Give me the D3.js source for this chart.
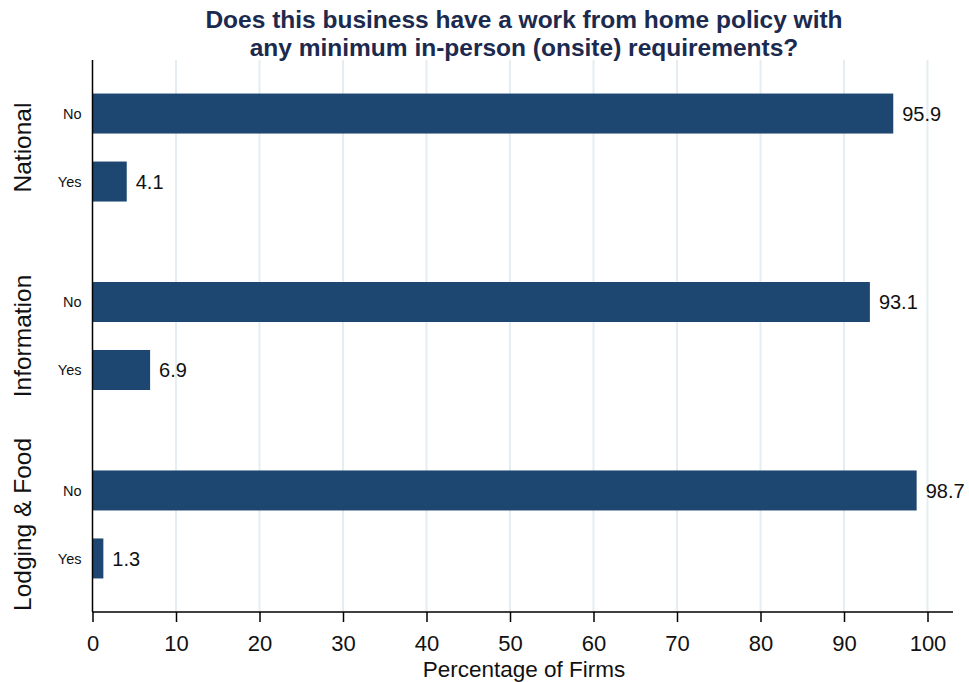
<!DOCTYPE html>
<html>
<head>
<meta charset="utf-8">
<script src="https://cdn.jsdelivr.net/npm/d3@7"></script>
<style>
  html, body { margin: 0; padding: 0; background: #ffffff; }
  svg { display: block; }
  text { font-family: "Liberation Sans", Arial, sans-serif; }
</style>
</head>
<body>
<svg id="chart" width="969" height="682"></svg>
<script>
const groups = ["National", "Information", "Lodging & Food"];
const answers = ["No", "Yes"];
const noValues = [95.9, 93.1, 98.7];
const yesValues = [4.1, 6.9, 1.3];
const xTicks = [0, 10, 20, 30, 40, 50, 60, 70, 80, 90, 100];
const titleLines = ["Does this business have a work from home policy with", "any minimum in-person (onsite) requirements?"];
const xTitle = "Percentage of Firms";

const rows = [];
groups.forEach((g, i) => {
  rows.push({ group: g, answer: "No", value: noValues[i] });
  rows.push({ group: g, answer: "Yes", value: yesValues[i] });
});

const svg = d3.select("#chart");
const plotLeft = 92.5, plotRight = 953, plotTop = 60, plotBottom = 612;

const x = d3.scaleLinear().domain([0, 100]).range([plotLeft, 927.5]);
const yGroup = d3.scaleBand().domain(groups).range([plotTop, plotBottom]).paddingInner(0.427).paddingOuter(0.178);
const yAns = d3.scaleBand().domain(answers).range([0, yGroup.bandwidth()]).paddingInner(0.4118).paddingOuter(0);

const barColor = "#1d4770";

// gridlines
svg.append("g").selectAll("line").data(xTicks.filter(d => d > 0)).join("line")
  .attr("x1", d => x(d)).attr("x2", d => x(d))
  .attr("y1", plotTop).attr("y2", plotBottom)
  .attr("stroke", "#e4edf1").attr("stroke-width", 2);

// bars
svg.append("g").selectAll("rect").data(rows).join("rect")
  .attr("x", x(0))
  .attr("y", d => yGroup(d.group) + yAns(d.answer))
  .attr("width", d => x(d.value) - x(0))
  .attr("height", yAns.bandwidth())
  .attr("fill", barColor);

// value labels
svg.append("g").selectAll("text").data(rows).join("text")
  .attr("x", d => x(d.value) + 9)
  .attr("y", d => yGroup(d.group) + yAns(d.answer) + yAns.bandwidth() / 2)
  .attr("dy", "0.36em")
  .attr("font-size", 20)
  .attr("fill", "#111")
  .text(d => d.value.toFixed(1));

// answer labels
svg.append("g").selectAll("text").data(rows).join("text")
  .attr("x", 81.5)
  .attr("y", d => yGroup(d.group) + yAns(d.answer) + yAns.bandwidth() / 2)
  .attr("dy", "0.36em")
  .attr("text-anchor", "end")
  .attr("font-size", 14.5)
  .attr("fill", "#111")
  .text(d => d.answer);

// group labels
svg.append("g").selectAll("text").data(groups).join("text")
  .attr("transform", d => `translate(31,${yGroup(d) + yGroup.bandwidth() / 2}) rotate(-90)`)
  .attr("text-anchor", "middle")
  .attr("font-size", 24.5)
  .attr("fill", "#111")
  .text(d => d);

// x axis
const xAxis = d3.axisBottom(x).tickValues(xTicks).tickSize(10).tickPadding(13).tickFormat(d3.format("d"));
const gx = svg.append("g").attr("transform", `translate(0,${plotBottom})`).call(xAxis);
gx.select(".domain").remove();
gx.append("line").attr("x1", plotLeft).attr("x2", plotRight).attr("y1", 0).attr("y2", 0).attr("stroke", "#000").attr("stroke-width", 1.5);
gx.selectAll(".tick line").attr("stroke", "#000").attr("stroke-width", 1.5);
gx.selectAll(".tick text").attr("font-size", 22).attr("fill", "#111").attr("font-family", "'Liberation Sans', Arial, sans-serif");

// y axis line
svg.append("line").attr("x1", plotLeft).attr("x2", plotLeft).attr("y1", plotTop).attr("y2", plotBottom).attr("stroke", "#000").attr("stroke-width", 1.5);

// x title
svg.append("text").attr("x", 524).attr("y", 677)
  .attr("text-anchor", "middle").attr("font-size", 22.5).attr("fill", "#111").text(xTitle);

// title
svg.append("g").selectAll("text").data(titleLines).join("text")
  .attr("x", 524).attr("y", (d, i) => 28 + i * 28)
  .attr("text-anchor", "middle")
  .attr("font-family", "'Liberation Sans', Arial, sans-serif")
  .attr("font-weight", "bold")
  .attr("font-size", 24.5)
  .attr("fill", "#1b2a4e")
  .text(d => d);
</script>
</body>
</html>
